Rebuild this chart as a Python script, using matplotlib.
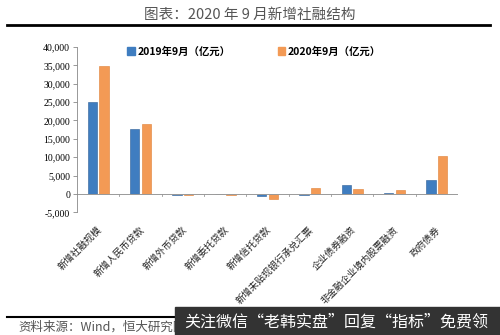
"""
2020年9月新增社融结构 bar chart.
"""
import numpy as np
import matplotlib.pyplot as plt
from matplotlib.patches import Rectangle
from matplotlib.lines import Line2D

plt.rcParams['font.family'] = ['Noto Sans CJK SC', 'DejaVu Sans']

# %% data
categories = ['新增社融规模', '新增人民币贷款', '新增外币贷款', '新增委托贷款',
              '新增信托贷款', '新增未贴现银行承兑汇票', '企业债券融资',
              '非金融企业境内股票融资', '政府债券']
sep_2019 = [25060, 17650, -300, -30, -600, -300, 2440, 270, 3890]
sep_2020 = [34760, 19170, -200, -200, -1270, 1540, 1450, 1180, 10230]
series_names = ['2019年9月（亿元）', '2020年9月（亿元）']
yticks = np.arange(-5000, 40001, 5000)

blue = '#3f7dc0'
orange = '#f39a55'

# %% plot
fig = plt.figure(figsize=(5, 3.35), dpi=100)
ax = fig.add_axes([0.154, 0.366, 0.762, 0.494])

x = np.arange(len(categories))
w = 0.22
ax.bar(x - 0.14, sep_2019, w, color=blue, edgecolor='#2d5f96', linewidth=0.4)
ax.bar(x + 0.14, sep_2020, w, color=orange, edgecolor='#e07f35', linewidth=0.4)

ax.set_xlim(-0.5, len(categories) - 0.5)
ax.set_ylim(-5000, 40000)
ax.set_yticks(yticks)
ax.set_yticklabels([f'{v:,}' for v in yticks], family='Liberation Serif',
                   fontsize=7)
ax.tick_params(axis='y', length=3, width=0.6, color='#888888', pad=2)

for s in ['top', 'right', 'bottom']:
    ax.spines[s].set_visible(False)
ax.spines['left'].set_color('#888888')
ax.spines['left'].set_linewidth(0.6)

# category axis drawn at zero
ax.axhline(0, color='#999999', linewidth=0.7)
for b in np.arange(0.5, len(categories), 1.0):
    ax.plot([b, b], [0, -600], color='#999999', linewidth=0.6)
ax.set_xticks([])
for i, c in enumerate(categories):
    ax.text(i + 0.05, -9300, c, rotation=45, ha='right', va='center',
            fontsize=6.8, color='#222222', rotation_mode='anchor',
            clip_on=False)

# legend
handles = [Rectangle((0, 0), 1, 1, color=blue),
           Rectangle((0, 0), 1, 1, color=orange)]
leg = ax.legend(handles, series_names, loc='upper center', ncol=2,
                frameon=False, fontsize=7.5, bbox_to_anchor=(0.465, 1.06),
                handlelength=0.7, handleheight=0.7, handletextpad=0.3,
                columnspacing=4.5)
for t in leg.get_texts():
    t.set_fontweight('bold')

# title and frame lines
fig.text(0.5, 0.955, '图表：2020 年 9 月新增社融结构', ha='center', va='center',
         fontsize=10.5, color='#555555')
fig.add_artist(Line2D([0.014, 0.98], [0.925, 0.925], color='black',
                      linewidth=2))
fig.add_artist(Line2D([0.014, 0.98], [0.055, 0.055], color='black',
                      linewidth=1.5))
fig.text(0.036, 0.024, '资料来源：Wind，恒大研究院', ha='left', va='center',
         fontsize=9, color='#555555', style='italic', zorder=1)

# overlay banner
fig.add_artist(Rectangle((0.35, 0.0), 0.65, 0.085, transform=fig.transFigure,
                         color='#333333', zorder=5))
fig.text(0.368, 0.04, '关注微信“老韩实盘”回复“指标”免费领', ha='left',
         va='center', fontsize=11.5, color='white', zorder=6)

fig.savefig('out.png', dpi=100)
